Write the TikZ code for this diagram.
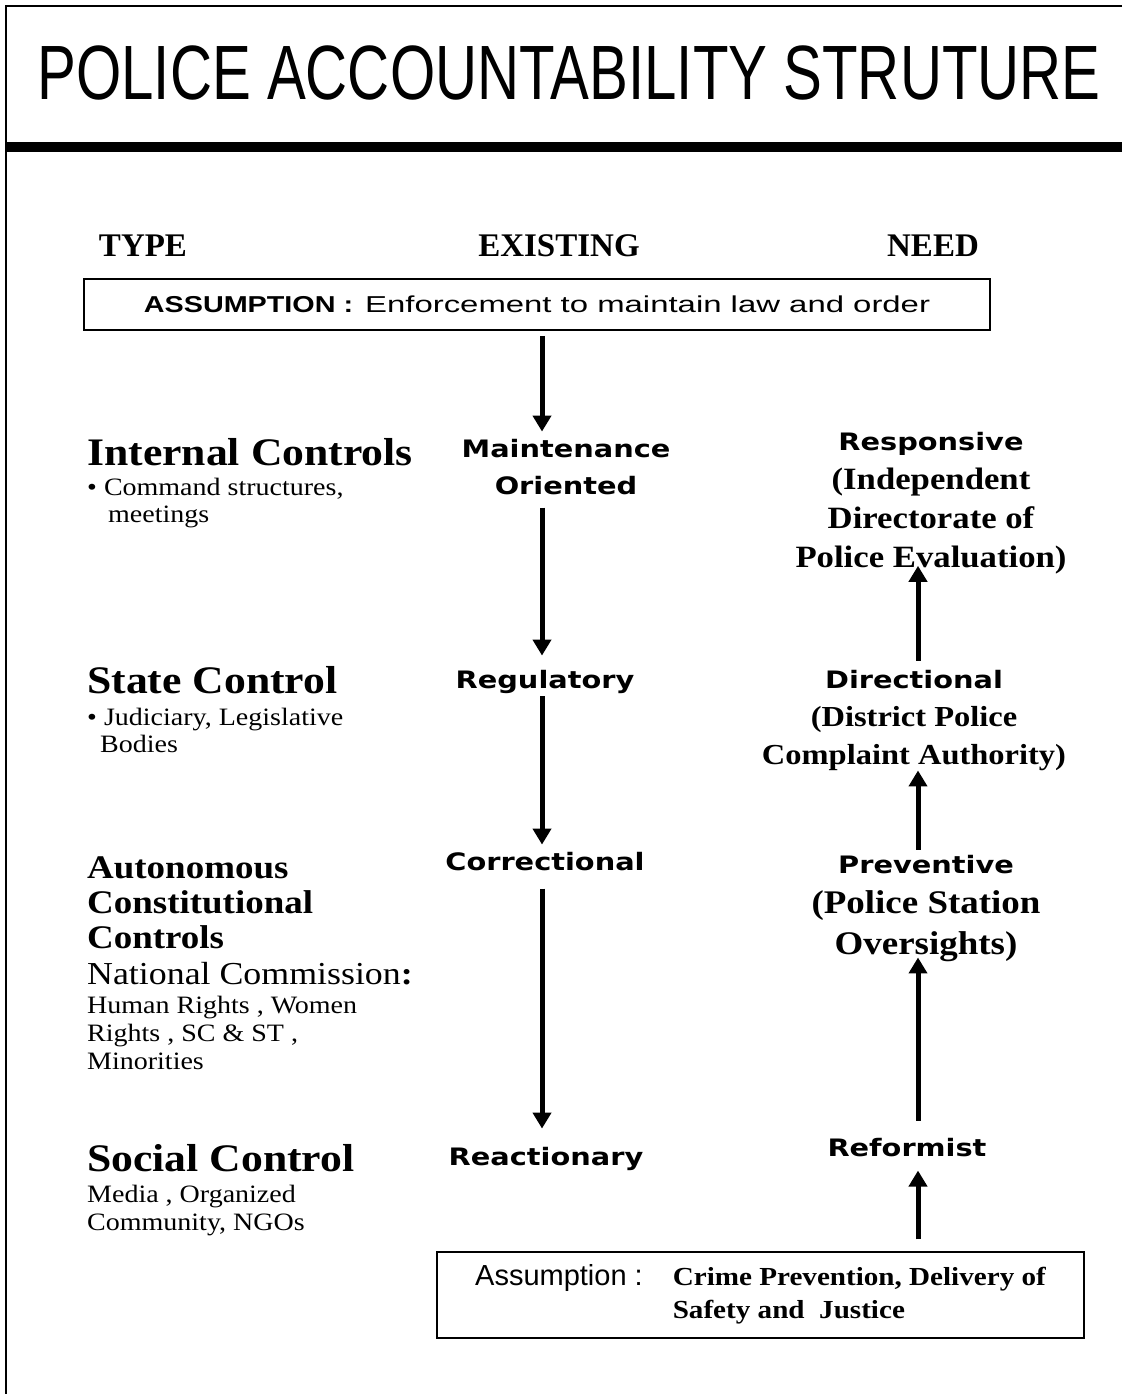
\documentclass[tikz,border=0pt]{standalone}
\usepackage{fontspec}
\setmainfont{Liberation Serif}
\newfontfamily\titlefont{Liberation Sans}[FakeStretch=0.756]
\newfontfamily\boxfont{Liberation Sans}[FakeStretch=1.25]
\newfontfamily\boxwidefont{Liberation Sans}[FakeStretch=1.43]
\newfontfamily\plainsans{Liberation Sans}
\newfontfamily\levelfont{DejaVu Sans}[FakeStretch=1.2]
\newfontfamily\widerm{Liberation Serif}[FakeStretch=1.12]
\usetikzlibrary{calc}
\usetikzlibrary{arrows.meta}
\newcommand{\fs}[2]{\fontsize{#1}{#2}\selectfont}

\begin{document}
\begin{tikzpicture}[x=1pt, y=-1pt,
  Pfeil/.style={line width=5pt, arrows = -{Triangle[width=18pt, length=16pt]}},
  Stufe/.style={font=\levelfont\bfseries\fs{24}{37}, inner sep=0pt, align=center, anchor=base},
  Typ/.style={font=\widerm\bfseries\fs{39}{40}, inner sep=0pt, anchor=base west},
  Liste/.style={font=\widerm\fs{25}{27}, inner sep=0pt, anchor=base west, align=left},
  Kopf/.style={font=\rmfamily\bfseries\fs{33}{36}, inner sep=0pt, anchor=base},
  Kasten/.style={draw, line width=1.5pt, inner sep=0pt}]
\useasboundingbox (0,0) rectangle (1122,1394);
\draw[line width=2pt] (1122,6) -- (6,6) -- (6,1394);
\fill (6,142) rectangle (1122,152);
\node[font=\titlefont\fs{77}{80}, inner sep=0pt, anchor=base] (titel) at (569,100) {POLICE ACCOUNTABILITY STRUTURE};

\node[Kopf] (typ) at (143,256) {TYPE};
\node[Kopf] (ist) at (559,256) {EXISTING};
\node[Kopf] (soll) at (933,256) {NEED};

\node[Kasten, minimum width=906pt, minimum height=51pt] (ann1) at (537,304.5) {{\boxfont\bfseries\fs{23}{26}ASSUMPTION :}\hspace{12pt}{\boxwidefont\fs{23}{26}Enforcement to maintain law and order}};

\node[Typ] (intern) at (87,465) {Internal Controls};
\node[Liste] (internl) at (87,522) {\textbullet\ Command structures,\\\hspace*{21pt}meetings};
\node[Typ] (staat) at (87,693) {State Control};
\node[Liste] (staatl) at (87,752) {\textbullet\ Judiciary, Legislative\\\hspace*{13pt}Bodies};
\node[Typ, font=\widerm\bfseries\fs{33}{35}, align=left] (auto) at (87,948) {Autonomous\\Constitutional\\Controls};
\node[Liste, font=\widerm\fs{32}{34}] (natkom) at (87,984) {National Commission\textbf{:}};
\node[Liste, font=\widerm\fs{25}{28}] (natkoml) at (87,1069) {Human Rights , Women\\Rights , SC \& ST ,\\Minorities};
\node[Typ] (sozial) at (87,1171) {Social Control};
\node[Liste, font=\widerm\fs{25}{28}] (soziall) at (87,1230) {Media , Organized\\Community, NGOs};

\coordinate (mx) at (542,0);
\node[Stufe] (wart) at (566,494) {Maintenance\\Oriented};
\node[Stufe] (regel) at (545,688) {Regulatory};
\node[Stufe] (korr) at (545,870) {Correctional};
\node[Stufe] (reakt) at (546,1165) {Reactionary};

\coordinate (nx) at (918,0);
\node[Stufe, font=\widerm\bfseries\fs{31}{39}] (resp) at (931,567) {{\levelfont\fs{24}{39}Responsive}\\(Independent\\Directorate of\\Police Evaluation)};
\node[Stufe, font=\widerm\bfseries\fs{29}{38}] (dir) at (914,764) {{\levelfont\fs{24}{38}Directional}\\(District Police\\Complaint Authority)};
\node[Stufe, font=\widerm\bfseries\fs{33}{40.5}] (prev) at (926,954) {{\levelfont\fs{24}{40.5}Preventive}\\(Police Station\\Oversights)};
\node[Stufe] (reform) at (907,1156) {Reformist};

\node[Kasten, minimum width=647pt, minimum height=86pt] (ann2) at (760.5,1295) {{\plainsans\fs{29}{33}Assumption :}\hspace{30pt}{\widerm\bfseries\fs{26}{33}\begin{tabular}[t]{@{}l@{}}Crime Prevention, Delivery of\\Safety and\ \ Justice\end{tabular}}};

\draw[Pfeil, shorten <=5pt, shorten >=7pt] (ann1.south -| mx) -- (wart.north -| mx);
\draw[Pfeil, shorten <=13pt, shorten >=14pt] (wart.south -| mx) -- (regel.north -| mx);
\draw[Pfeil, shorten <=3pt, shorten >=7pt] (regel.south -| mx) -- (korr.north -| mx);
\draw[Pfeil, shorten <=18pt, shorten >=18pt] (korr.south -| mx) -- (reakt.north -| mx);

\draw[Pfeil, shorten <=9pt, shorten >=-8pt] (dir.north -| nx) -- (resp.south -| nx);
\draw[Pfeil, shorten <=5pt, shorten >=0pt] (prev.north -| nx) -- (dir.south -| nx);
\draw[Pfeil, shorten <=17pt, shorten >=-4pt] (reform.north -| nx) -- (prev.south -| nx);
\draw[Pfeil, shorten <=12pt, shorten >=14pt] (ann2.north -| nx) -- (reform.south -| nx);
\end{tikzpicture}
\end{document}
